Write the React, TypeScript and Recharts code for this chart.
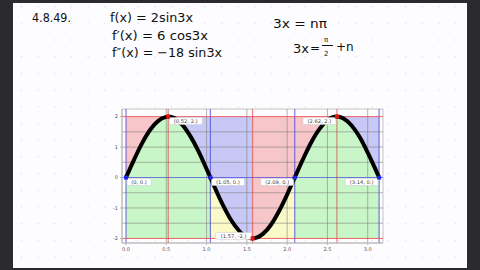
import { ComposedChart, Line, Area, Scatter, XAxis, YAxis, ReferenceArea, ReferenceLine } from 'recharts'

// curve values (f(x) = 2 sin 3x)
const xs = [0, 0.1, 0.2, 0.3, 0.4, 0.5, 0.5236, 0.6, 0.7, 0.8, 0.9, 1.0, 1.0472, 1.1, 1.2, 1.3, 1.4, 1.5, 1.5708, 1.6, 1.7, 1.8, 1.9, 2.0, 2.0944, 2.2, 2.3, 2.4, 2.5, 2.618, 2.7, 2.8, 2.9, 3.0, 3.1, 3.1416]
const ys = [0, 0.59, 1.13, 1.57, 1.86, 1.99, 2, 1.95, 1.73, 1.35, 0.86, 0.28, 0, -0.32, -0.89, -1.38, -1.74, -1.96, -2, -1.99, -1.85, -1.55, -1.1, -0.56, 0, 0.62, 1.16, 1.59, 1.88, 2, 1.94, 1.71, 1.33, 0.82, 0.25, 0]

// critical points and their labels
const pointX = [0, 0.5236, 1.0472, 1.5708, 2.0944, 2.618, 3.1416]
const pointY = [0, 2, 0, -2, 0, 2, 0]
const pointLabels = ['(0, 0.)', '(0.52, 2.)', '(1.05, 0.)', '(1.57, -2.)', '(2.09, 0.)', '(2.62, 2.)', '(3.14, 0.)']

// top bands (curve up to y=2): increasing / decreasing
const topBands = [
  { x1: 0, x2: 0.5236, color: '#f6c6c8' },
  { x1: 0.5236, x2: 1.5708, color: '#c8c8f6' },
  { x1: 1.5708, x2: 2.618, color: '#f6c6c8' },
  { x1: 2.618, x2: 3.1416, color: '#c8c8f6' },
]
// bottom bands (curve down to y=-2): concavity
const bottomBands = [
  { key: 'g1', from: 0, to: 1.0472, color: '#c9f6c9' },
  { key: 'y1', from: 1.0472, to: 2.0944, color: '#fafac8' },
  { key: 'g2', from: 2.0944, to: 3.1416, color: '#c9f6c9' },
]

const xTicks = [0, 0.5, 1, 1.5, 2, 2.5, 3]
const yTicks = [-2, -1, 0, 1, 2]
const gridX = [0.5, 1, 1.5, 2, 2.5, 3]
const gridY = [-1.5, -1, -0.5, 0.5, 1, 1.5]
const zeroX = [0, 1.0472, 2.0944, 3.1416]
const extX = [0.5236, 1.5708, 2.618]
const extY = [-2, 2]

const data = xs.map((x, i) => {
  const row: Record<string, number | null> = { x, y: ys[i] }
  bottomBands.forEach((b) => {
    row[b.key] = x >= b.from - 1e-6 && x <= b.to + 1e-6 ? ys[i] : null
  })
  return row
})

const points = pointX.map((x, i) => ({ x, y: pointY[i], label: pointLabels[i] }))

function PointMark(props: any) {
  const { cx, cy, payload } = props
  const color = payload.y === 0 ? '#2222ee' : '#ee1111'
  const w = payload.label.length * 3 + 3
  let bx = cx + 1
  let by = cy + 1
  if (payload.y === -2) {
    bx = cx - w - 1
    by = cy - 6
  } else if (payload.x > 1.6) {
    bx = cx - w - 1
  }
  return (
    <g>
      <rect x={bx} y={by} width={w} height={7} fill="#fff" stroke="#c8c8c8" strokeWidth={0.5} rx={1} />
      <text x={bx + w / 2} y={by + 5.3} textAnchor="middle" fontSize={5.2} fill="#444" fontFamily="DejaVu Sans">
        {payload.label}
      </text>
      <rect x={cx - 2} y={cy - 2} width={4} height={4} fill={color} />
    </g>
  )
}

function Notes() {
  const hand = { fontFamily: 'DejaVu Sans', fill: '#111' }
  return (
    <svg width={480} height={270} style={{ position: 'absolute', left: 0, top: 0 }}>
      <defs>
        <pattern id="dots" width={16.7} height={16.7} patternUnits="userSpaceOnUse" x={4} y={6}>
          <rect width={1.2} height={1.2} fill="#dcdce0" />
        </pattern>
      </defs>
      <rect width={480} height={270} fill="#2b2b2d" />
      <rect x={13} y={3} width={454} height={265} fill="#fdfcfe" />
      <rect x={13} y={3} width={454} height={265} fill="url(#dots)" />
      <text x={32} y={22} fontSize={12} textLength={39} lengthAdjust="spacingAndGlyphs" {...hand}>4.8.49.</text>
      <text x={110} y={22} fontSize={13} textLength={83} lengthAdjust="spacingAndGlyphs" {...hand}>f(x) = 2sin3x</text>
      <text x={112} y={40} fontSize={13} textLength={96} lengthAdjust="spacingAndGlyphs" {...hand}>f′(x) = 6 cos3x</text>
      <text x={112} y={57} fontSize={13} textLength={110} lengthAdjust="spacingAndGlyphs" {...hand}>f″(x) = −18 sin3x</text>
      <text x={273} y={28} fontSize={13} textLength={54} lengthAdjust="spacingAndGlyphs" {...hand}>3x = nπ</text>
      <text x={293} y={53} fontSize={13} {...hand}>3x</text>
      <text x={310} y={52} fontSize={12} {...hand}>=</text>
      <text x={324} y={42} fontSize={7} {...hand}>π</text>
      <line x1={322} y1={45.5} x2={333} y2={45.5} stroke="#111" strokeWidth={1} />
      <text x={324} y={56} fontSize={7} {...hand}>2</text>
      <text x={336} y={51} fontSize={12} {...hand}>+n</text>
    </svg>
  )
}

export default function App() {
  return (
    <div style={{ position: 'fixed', left: 0, top: 0, width: 480, height: 270, overflow: 'hidden' }}>
      <Notes />
      <div style={{ position: 'absolute', left: 100, top: 100 }}>
        <ComposedChart width={300} height={160} data={data} margin={{ top: 9, right: 17, bottom: 0, left: 0 }}>
          <XAxis
            dataKey="x"
            type="number"
            domain={[-0.05, 3.19]}
            allowDataOverflow
            ticks={xTicks}
            tickFormatter={(v: number) => v.toFixed(1)}
            height={17}
            tick={{ fontSize: 5, fill: '#555', fontFamily: 'DejaVu Sans' }}
            tickSize={2}
            tickMargin={2}
            stroke="#bbb"
          />
          <YAxis
            type="number"
            domain={[-2.15, 2.25]}
            allowDataOverflow
            ticks={yTicks}
            width={22}
            tick={{ fontSize: 5, fill: '#555', fontFamily: 'DejaVu Sans' }}
            tickSize={2}
            tickMargin={2}
            stroke="#bbb"
          />
          {topBands.map((b, i) => (
            <ReferenceArea key={'t' + i} x1={b.x1} x2={b.x2} y1={-2} y2={2} fill={b.color} fillOpacity={1} stroke="none" />
          ))}
          {bottomBands.map((b) => (
            <Area
              key={b.key}
              dataKey={b.key}
              type="monotone"
              baseValue={-2}
              fill={b.color}
              fillOpacity={1}
              stroke="none"
              isAnimationActive={false}
            />
          ))}
          {gridX.map((v) => (
            <ReferenceLine key={'gx' + v} x={v} stroke="#7a7a7a" strokeOpacity={0.55} strokeWidth={1} />
          ))}
          {gridY.map((v) => (
            <ReferenceLine key={'gy' + v} y={v} stroke="#7a7a7a" strokeOpacity={0.55} strokeWidth={1} />
          ))}
          {zeroX.map((v) => (
            <ReferenceLine key={'zx' + v} x={v} stroke="#4444dd" strokeOpacity={0.7} strokeWidth={1.2} />
          ))}
          <ReferenceLine y={0} stroke="#4444dd" strokeOpacity={0.7} strokeWidth={1.2} />
          {extX.map((v) => (
            <ReferenceLine key={'ex' + v} x={v} stroke="#dd3333" strokeOpacity={0.6} strokeWidth={1.2} />
          ))}
          {extY.map((v) => (
            <ReferenceLine key={'ey' + v} y={v} stroke="#ee4444" strokeOpacity={0.8} strokeWidth={1} />
          ))}
          <ReferenceArea x1={-0.05} x2={3.19} y1={-2.15} y2={2.25} fill="none" stroke="#c4c4c4" strokeWidth={1} />
          <Line dataKey="y" type="monotone" stroke="#000" strokeWidth={4} dot={false} isAnimationActive={false} />
          <Scatter data={points} dataKey="y" shape={<PointMark />} isAnimationActive={false} />
        </ComposedChart>
      </div>
    </div>
  )
}
